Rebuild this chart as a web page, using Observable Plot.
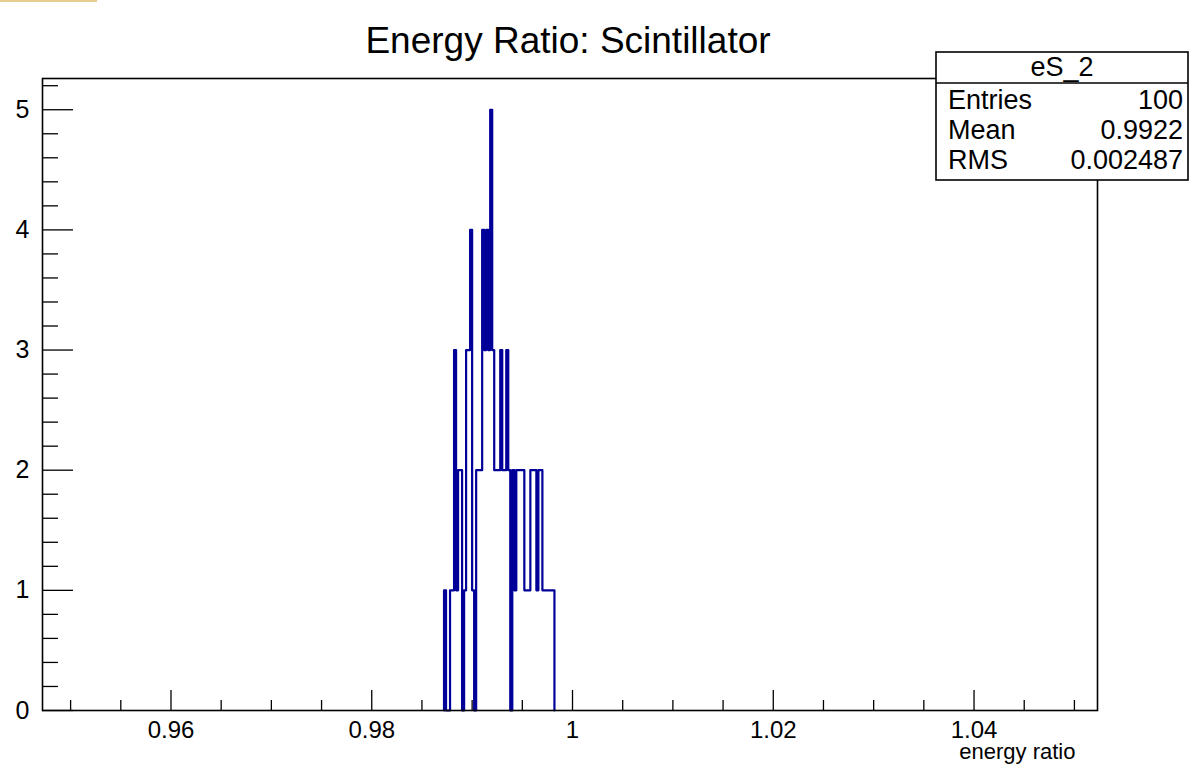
<!DOCTYPE html>
<html>
<head>
<meta charset="utf-8">
<script src="https://cdn.jsdelivr.net/npm/d3@7"></script>
<script src="https://cdn.jsdelivr.net/npm/@observablehq/plot@0.6"></script>
<style>
  html, body { margin: 0; padding: 0; background: white; }
  #wrap { position: relative; width: 1189px; height: 764px; }
  #strip { position: absolute; left: 0; top: 0; width: 97px; height: 2px; background: #e6cf8e; z-index: 2; }
</style>
</head>
<body>
<div id="wrap"><div id="strip"></div></div>
<script>
// ---- data ----
const title = "Energy Ratio: Scintillator";
const xTitle = "energy ratio";
const xDomain = [0.9472, 1.0523];
const yDomain = [0, 5.26];
const binStart = 0.9872;
const binWidth = 0.0002;
const counts = [1,0,0,1,1,3,1,2,2,0,1,3,3,4,1,0,2,2,2,4,3,4,3,5,3,2,2,2,3,2,2,3,2,0,2,1,2,2,2,2,1,1,1,2,2,2,1,2,2,1,1,1,1,1,1];
const xMajor = [0.96, 0.98, 1.00, 1.02, 1.04];
const xMinor = [0.95, 0.955, 0.965, 0.97, 0.975, 0.985, 0.99, 0.995, 1.005, 1.01, 1.015, 1.025, 1.03, 1.035, 1.045, 1.05];
const yMajor = [0, 1, 2, 3, 4, 5];
const yMinor = [0.2,0.4,0.6,0.8,1.2,1.4,1.6,1.8,2.2,2.4,2.6,2.8,3.2,3.4,3.6,3.8,4.2,4.4,4.6,4.8,5.2];
const statsName = "eS_2";
const statsLabels = ["Entries", "Mean", "RMS"];
const statsValues = ["100", "0.9922", "0.002487"];

// ---- build step outline ----
const pts = [{x: binStart, y: 0}];
counts.forEach((c, i) => pts.push({x: binStart + i * binWidth, y: c}));
pts.push({x: binStart + counts.length * binWidth, y: 0});

const W = 1189, H = 764, mL = 42, mR = 92, mT = 78, mB = 54;
const fw = W - mL - mR, fh = H - mT - mB;
const font = "'Liberation Sans', Arial, Helvetica, sans-serif";
const fmt = d3.format("~g");

const chart = Plot.plot({
  width: W, height: H,
  marginLeft: mL, marginRight: mR, marginTop: mT, marginBottom: mB,
  x: {domain: xDomain},
  y: {domain: yDomain},
  style: {fontFamily: font, background: "white", color: "black", overflow: "visible"},
  marks: [
    Plot.line(pts, {x: "x", y: "y", curve: "step-after", stroke: "#000099", strokeWidth: 2.2}),
    Plot.tickY(yMajor, {y: d => d, insetRight: fw - 31, stroke: "black", strokeWidth: 1.3}),
    Plot.tickY(yMinor, {y: d => d, insetRight: fw - 16, stroke: "black", strokeWidth: 1.3}),
    Plot.tickX(xMajor, {x: d => d, insetTop: fh - 20, stroke: "black", strokeWidth: 1.3}),
    Plot.tickX(xMinor, {x: d => d, insetTop: fh - 10, stroke: "black", strokeWidth: 1.3}),
    Plot.frame({stroke: "black", strokeWidth: 1.6}),
    Plot.axisY({ticks: yMajor, tickSize: 0, tickPadding: 13, fontSize: 25, label: null, tickFormat: fmt}),
    Plot.axisX({ticks: xMajor, tickSize: 0, tickPadding: 10, fontSize: 24, label: null, tickFormat: fmt}),
    Plot.text([title], {text: d => d, frameAnchor: "top", dx: -2, dy: -52, fontSize: 37, fill: "black"}),
    Plot.text([xTitle], {text: d => d, frameAnchor: "bottom-right", dx: -22, dy: 48, textAnchor: "end", fontSize: 22, fill: "black"})
  ]
});
document.getElementById("wrap").appendChild(chart);

// ---- stats box ----
const svg = d3.select(chart);
const bx = 936, by = 52, bw = 252, bh = 128, hh = 31;
const g = svg.append("g").attr("font-family", font).attr("font-size", 27).attr("fill", "black").attr("text-anchor", "start");
g.append("rect").attr("x", bx).attr("y", by).attr("width", bw).attr("height", bh)
  .attr("fill", "white").attr("stroke", "black").attr("stroke-width", 1.6);
g.append("line").attr("x1", bx).attr("x2", bx + bw).attr("y1", by + hh).attr("y2", by + hh)
  .attr("stroke", "black").attr("stroke-width", 1.6);
g.append("text").attr("x", bx + bw / 2).attr("y", by + hh / 2 - 1).attr("dy", "0.35em")
  .attr("text-anchor", "middle").text(statsName);
statsLabels.forEach((lab, i) => {
  const yy = by + hh + 17 + i * 30;
  g.append("text").attr("x", bx + 12).attr("y", yy).attr("dy", "0.35em").attr("text-anchor", "start").text(lab);
  g.append("text").attr("x", bx + bw - 5).attr("y", yy).attr("dy", "0.35em")
    .attr("text-anchor", "end").text(statsValues[i]);
});
</script>
</body>
</html>
